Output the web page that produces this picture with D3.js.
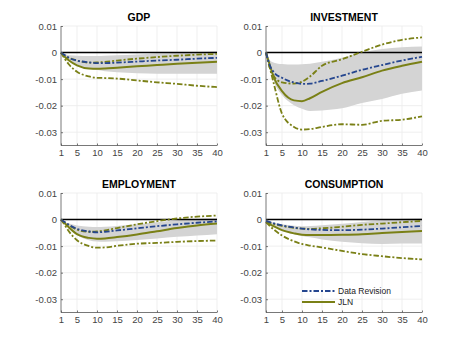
<!DOCTYPE html>
<html>
<head>
<meta charset="utf-8">
<script src="https://cdn.jsdelivr.net/npm/d3@7"></script>
<style>
  body { margin: 0; background: #fff; }
  text { font-family: "Liberation Sans", Arial, sans-serif; }
</style>
</head>
<body>
<svg id="chart"></svg>
<script>
// *********************************************
// DATA
// *********************************************
var horizons = [1, 2, 3, 5, 8, 10, 12, 15, 20, 25, 30, 35, 40];
var titles = ["GDP", "INVESTMENT", "EMPLOYMENT", "CONSUMPTION"];
var xTicks = [1, 5, 10, 15, 20, 25, 30, 35, 40];
var yTicks = [0.01, 0, -0.01, -0.02, -0.03];
var yTickLabels = ["0.01", "0", "-0.01", "-0.02", "-0.03"];
var legendLabels = ["Data Revision", "JLN"];

// Data Revision band (gray)
var bandHi = [
  [0, -0.0005, -0.001, -0.0012, -0.0013, -0.0013, -0.0012, -0.001, -0.0007, -0.0004, -0.0001, 0.0002, 0.0005],
  [0, -0.003, -0.0038, -0.0043, -0.0045, -0.0044, -0.0042, -0.0035, -0.002, 0, 0.0013, 0.002, 0.0023],
  [0, -0.001, -0.0015, -0.0022, -0.0027, -0.0028, -0.0027, -0.0024, -0.0018, -0.001, -0.0003, 0.0002, 0.0005],
  [0, -0.0007, -0.0012, -0.0018, -0.0023, -0.0025, -0.0024, -0.0021, -0.0016, -0.0009, -0.0003, 0.0003, 0.0005]
];
var bandLo = [
  [0, -0.0015, -0.0028, -0.0045, -0.006, -0.0066, -0.007, -0.0074, -0.0078, -0.008, -0.008, -0.008, -0.008],
  [0, -0.006, -0.011, -0.016, -0.0198, -0.0212, -0.022, -0.0218, -0.021, -0.019, -0.0175, -0.0155, -0.0143],
  [0, -0.002, -0.0035, -0.0058, -0.0078, -0.0083, -0.0084, -0.0082, -0.0077, -0.0071, -0.0065, -0.006, -0.0055],
  [0, -0.0015, -0.0025, -0.0042, -0.0055, -0.0062, -0.0067, -0.0075, -0.0084, -0.0089, -0.0092, -0.009, -0.009]
];
// Data Revision point estimate (blue dash-dot)
var revision = [
  [0, -0.001, -0.002, -0.003, -0.0037, -0.004, -0.004, -0.0038, -0.0034, -0.003, -0.0027, -0.0023, -0.002],
  [0, -0.005, -0.0075, -0.0095, -0.0113, -0.0118, -0.0117, -0.0107, -0.0087, -0.0065, -0.0047, -0.003, -0.0016],
  [0, -0.001, -0.002, -0.0035, -0.0045, -0.0048, -0.0046, -0.0041, -0.0033, -0.0025, -0.0018, -0.0012, -0.0007],
  [-0.0005, -0.001, -0.0014, -0.0022, -0.003, -0.0034, -0.0037, -0.0039, -0.004, -0.0038, -0.0034, -0.0029, -0.0024]
];
// JLN point estimate (olive solid) and bounds (olive dash-dot)
var jln = [
  [0, -0.0017, -0.003, -0.0048, -0.006, -0.0061, -0.006, -0.0057, -0.0052, -0.0047, -0.0042, -0.0038, -0.0035],
  [0, -0.005, -0.0095, -0.0145, -0.018, -0.0183, -0.0172, -0.0148, -0.0115, -0.0093, -0.0068, -0.005, -0.0035],
  [0, -0.0015, -0.003, -0.0055, -0.0069, -0.0072, -0.0071, -0.0066, -0.0056, -0.0044, -0.0032, -0.0022, -0.0015],
  [-0.001, -0.0018, -0.0026, -0.004, -0.0052, -0.0057, -0.0058, -0.0058, -0.0057, -0.0055, -0.0051, -0.0047, -0.0043]
];
var jlnUp = [
  [0, -0.0013, -0.002, -0.003, -0.0038, -0.0037, -0.0035, -0.003, -0.0023, -0.0017, -0.0012, -0.0008, -0.0005],
  [0, -0.006, -0.009, -0.0112, -0.0117, -0.011, -0.009, -0.005, -0.0025, 0.0003, 0.003, 0.0048, 0.0057],
  [0, -0.0012, -0.0022, -0.0038, -0.0046, -0.0045, -0.0041, -0.0032, -0.0018, -0.0006, 0.0004, 0.0011, 0.0015],
  [-0.001, -0.0013, -0.0017, -0.0024, -0.0031, -0.0034, -0.0035, -0.0033, -0.0027, -0.002, -0.0015, -0.001, -0.0005]
];
var jlnLo = [
  [0, -0.0025, -0.0045, -0.0072, -0.009, -0.0095, -0.0096, -0.0098, -0.0105, -0.0112, -0.0118, -0.0125, -0.013],
  [0, -0.006, -0.012, -0.023, -0.028, -0.029, -0.0288, -0.028, -0.027, -0.0272, -0.0257, -0.0253, -0.024],
  [0, -0.0022, -0.0045, -0.0078, -0.01, -0.0106, -0.0105, -0.0099, -0.0091, -0.0088, -0.0084, -0.0081, -0.0079],
  [-0.001, -0.0025, -0.0038, -0.006, -0.0082, -0.0092, -0.0098, -0.0105, -0.0118, -0.013, -0.0138, -0.0145, -0.015]
];

// *********************************************
// SETUP
// *********************************************
var width = 467, height = 350;
var panelW = 156, panelH = 119.5;
var lefts = [61, 266, 61, 266],
    tops = [26, 26, 193, 193];
var blue = "#25468f", olive = "#7a8016";
var dashDot = "5.5,2,2,2";

var svg = d3.select("#chart").attr("width", width).attr("height", height);

var x = d3.scaleLinear().domain([1, 40]).range([0, panelW]);
var y = d3.scaleLinear().domain([-0.035, 0.01]).range([panelH, 0]);

function series(vals) {
  return horizons.map(function(h, i) { return [h, vals[i]]; });
}
var line = d3.line().x(d => x(d[0])).y(d => y(d[1])).curve(d3.curveMonotoneX);
var area = d3.area()
    .x(d => x(d[0])).y0(d => y(d[1])).y1(d => y(d[2]))
    .curve(d3.curveMonotoneX);

// *********************************************
// PANELS
// *********************************************
titles.forEach(function(title, p) {
  var g = svg.append("g").attr("transform", "translate(" + lefts[p] + "," + tops[p] + ")");

  // grid
  g.append("g").selectAll("line").data(xTicks.slice(1)).enter().append("line")
      .attr("x1", d => x(d)).attr("x2", d => x(d))
      .attr("y1", 0).attr("y2", panelH)
      .attr("stroke", "#ebebeb").attr("stroke-width", 0.8);
  g.append("g").selectAll("line").data(yTicks).enter().append("line")
      .attr("x1", 0).attr("x2", panelW)
      .attr("y1", d => y(d)).attr("y2", d => y(d))
      .attr("stroke", "#ebebeb").attr("stroke-width", 0.8);

  // gray band
  var bandData = horizons.map((h, i) => [h, bandLo[p][i], bandHi[p][i]]);
  g.append("path").datum(bandData).attr("d", area).attr("fill", "#d4d4d4");

  // zero line
  g.append("line")
      .attr("x1", x(1)).attr("x2", x(40)).attr("y1", y(0)).attr("y2", y(0))
      .attr("stroke", "#000").attr("stroke-width", 1.5);

  // JLN bounds
  [jlnUp[p], jlnLo[p]].forEach(function(v) {
    g.append("path").datum(series(v)).attr("d", line)
        .attr("fill", "none").attr("stroke", olive).attr("stroke-width", 1.8)
        .attr("stroke-dasharray", dashDot);
  });
  // JLN estimate
  g.append("path").datum(series(jln[p])).attr("d", line)
      .attr("fill", "none").attr("stroke", olive).attr("stroke-width", 2);
  // Data Revision estimate
  g.append("path").datum(series(revision[p])).attr("d", line)
      .attr("fill", "none").attr("stroke", blue).attr("stroke-width", 1.8)
      .attr("stroke-dasharray", dashDot);

  // axes
  var xAxis = d3.axisBottom(x).tickValues(xTicks).tickSize(-2).tickPadding(4);
  var yAxis = d3.axisLeft(y).tickValues(yTicks).tickSize(-2).tickPadding(4)
      .tickFormat((d, i) => yTickLabels[i]);
  var gx = g.append("g").attr("transform", "translate(0," + panelH + ")").call(xAxis);
  var gy = g.append("g").call(yAxis);
  [gx, gy].forEach(function(a) {
    a.select(".domain").attr("stroke", "#555").attr("stroke-width", 0.8);
    a.selectAll(".tick line").attr("stroke", "#555").attr("stroke-width", 0.8);
    a.selectAll(".tick text").attr("fill", "#444").style("font-size", "9.5px")
        .style("font-family", "'Liberation Sans', Arial, sans-serif");
  });
  gy.select(".domain").attr("d", "M0," + panelH + "V0");
  gx.select(".domain").attr("d", "M0,0H" + panelW);

  // title
  g.append("text").attr("x", panelW / 2).attr("y", -5)
      .attr("text-anchor", "middle").attr("font-weight", "bold")
      .style("font-size", "10.5px").attr("fill", "#000").text(title);
});

// *********************************************
// LEGEND (inside CONSUMPTION panel)
// *********************************************
var leg = svg.append("g").attr("transform", "translate(302,291)");
var legStyles = [
  { color: blue, dash: dashDot, w: 1.8 },
  { color: olive, dash: null, w: 2 }
];
legendLabels.forEach(function(lab, i) {
  var row = leg.append("g").attr("transform", "translate(0," + (i * 11) + ")");
  row.append("line").attr("x1", 0).attr("x2", 33).attr("y1", 0).attr("y2", 0)
      .attr("stroke", legStyles[i].color).attr("stroke-width", legStyles[i].w)
      .attr("stroke-dasharray", legStyles[i].dash);
  row.append("text").attr("x", 36).attr("y", 3.2)
      .style("font-size", "8.5px").attr("fill", "#222").text(lab);
});
</script>
</body>
</html>
